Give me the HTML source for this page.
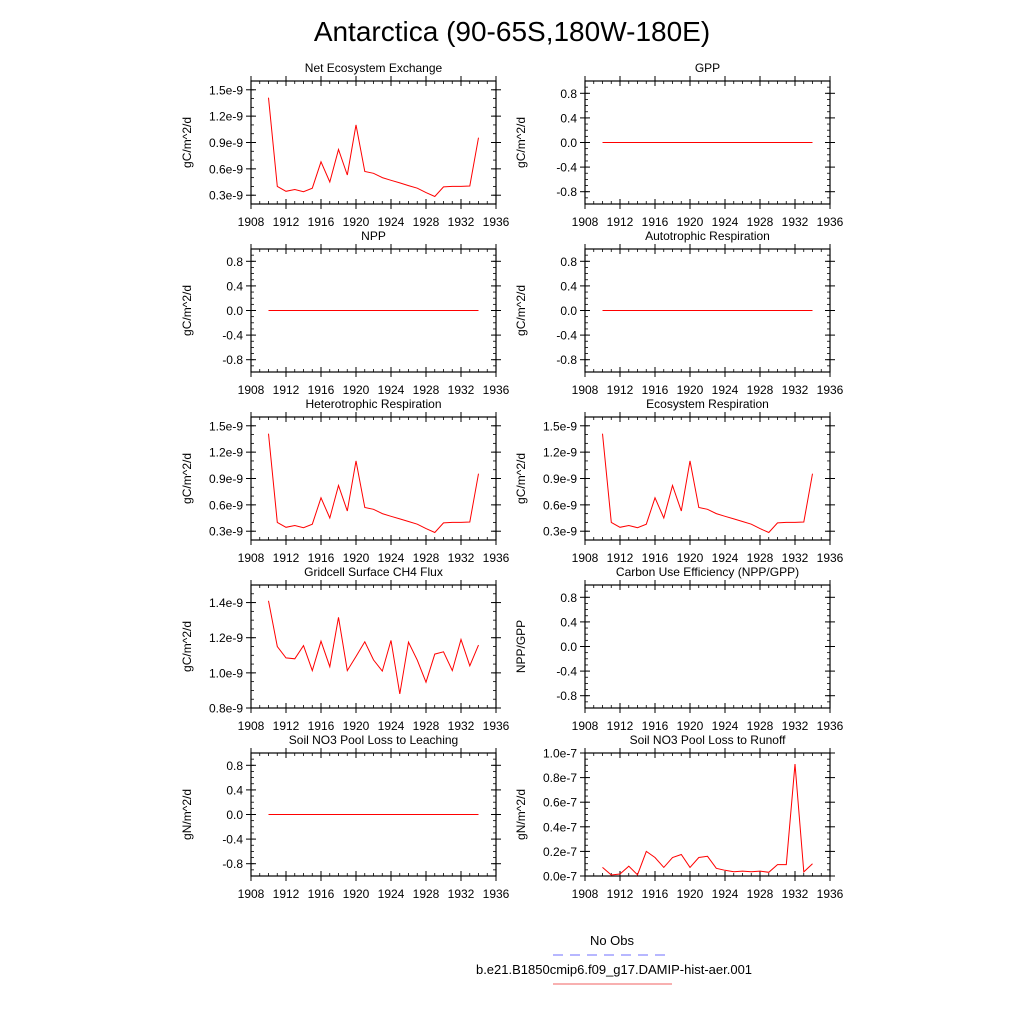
<!DOCTYPE html>
<html><head><meta charset="utf-8"><style>
body{margin:0;background:#fff;}
svg text{font-family:"Liberation Sans",sans-serif;fill:#000;}
</style></head><body>
<svg id="chart" width="1024" height="1024" xmlns="http://www.w3.org/2000/svg">
<text x="512" y="41" font-size="28" text-anchor="middle">Antarctica (90-65S,180W-180E)</text>
<text x="612" y="945" font-size="13" text-anchor="middle">No Obs</text>
<line x1="553" y1="955" x2="672" y2="955" stroke="#6f6fff" stroke-width="1" stroke-dasharray="10,7"/>
<text x="614" y="974" font-size="13" text-anchor="middle">b.e21.B1850cmip6.f09_g17.DAMIP-hist-aer.001</text>
<line x1="553" y1="984" x2="672" y2="984" stroke="#f06060" stroke-width="1"/>
</svg>
<script>
const years=[1910,1911,1912,1913,1914,1915,1916,1917,1918,1919,1920,1921,1922,1923,1924,1925,1926,1927,1928,1929,1930,1931,1932,1933,1934];
const xTicks=[1908,1912,1916,1920,1924,1928,1932,1936];
const neeVals=[1.41,0.40,0.345,0.365,0.34,0.38,0.68,0.45,0.82,0.53,1.10,0.57,0.55,0.50,0.47,0.44,0.41,0.38,0.33,0.285,0.395,0.40,0.40,0.405,0.955];
const ch4Vals=[1.41,1.15,1.085,1.08,1.155,1.013,1.18,1.035,1.316,1.013,1.093,1.177,1.074,1.01,1.185,0.88,1.175,1.072,0.947,1.107,1.12,1.013,1.19,1.04,1.158];
const runoffVals=[0.07,0.008,0.016,0.08,0.01,0.20,0.15,0.07,0.15,0.175,0.07,0.15,0.16,0.063,0.046,0.035,0.04,0.035,0.04,0.03,0.093,0.093,0.91,0.033,0.10];
const zeroVals=[0,0,0,0,0,0,0,0,0,0,0,0,0,0,0,0,0,0,0,0,0,0,0,0,0];
const nee3Ticks=["0.3e-9","0.6e-9","0.9e-9","1.2e-9","1.5e-9"];
const zeroTicks=["-0.8","-0.4","0.0","0.4","0.8"];
const ch4Ticks=["0.8e-9","1.0e-9","1.2e-9","1.4e-9"];
const runoffTicks=["0.0e-7","0.2e-7","0.4e-7","0.6e-7","0.8e-7","1.0e-7"];
const panels=[
 {name:"nee",title:"Net Ecosystem Exchange",ylab:"gC/m^2/d",col:0,row:0,ymin:0.2,ymax:1.6,tv:[0.3,0.6,0.9,1.2,1.5],tl:nee3Ticks,minor:0.1,data:neeVals},
 {name:"gpp",title:"GPP",ylab:"gC/m^2/d",col:1,row:0,ymin:-1,ymax:1,tv:[-0.8,-0.4,0,0.4,0.8],tl:zeroTicks,minor:0.1,data:zeroVals},
 {name:"npp",title:"NPP",ylab:"gC/m^2/d",col:0,row:1,ymin:-1,ymax:1,tv:[-0.8,-0.4,0,0.4,0.8],tl:zeroTicks,minor:0.1,data:zeroVals},
 {name:"autotrophic-resp",title:"Autotrophic Respiration",ylab:"gC/m^2/d",col:1,row:1,ymin:-1,ymax:1,tv:[-0.8,-0.4,0,0.4,0.8],tl:zeroTicks,minor:0.1,data:zeroVals},
 {name:"heterotrophic-resp",title:"Heterotrophic Respiration",ylab:"gC/m^2/d",col:0,row:2,ymin:0.2,ymax:1.6,tv:[0.3,0.6,0.9,1.2,1.5],tl:nee3Ticks,minor:0.1,data:neeVals},
 {name:"ecosystem-resp",title:"Ecosystem Respiration",ylab:"gC/m^2/d",col:1,row:2,ymin:0.2,ymax:1.6,tv:[0.3,0.6,0.9,1.2,1.5],tl:nee3Ticks,minor:0.1,data:neeVals},
 {name:"ch4-flux",title:"Gridcell Surface CH4 Flux",ylab:"gC/m^2/d",col:0,row:3,ymin:0.8,ymax:1.5,tv:[0.8,1.0,1.2,1.4],tl:ch4Ticks,minor:0.05,data:ch4Vals},
 {name:"cue",title:"Carbon Use Efficiency (NPP/GPP)",ylab:"NPP/GPP",col:1,row:3,ymin:-1,ymax:1,tv:[-0.8,-0.4,0,0.4,0.8],tl:zeroTicks,minor:0.1,data:null},
 {name:"no3-leaching",title:"Soil NO3 Pool Loss to Leaching",ylab:"gN/m^2/d",col:0,row:4,ymin:-1,ymax:1,tv:[-0.8,-0.4,0,0.4,0.8],tl:zeroTicks,minor:0.1,data:zeroVals},
 {name:"no3-runoff",title:"Soil NO3 Pool Loss to Runoff",ylab:"gN/m^2/d",col:1,row:4,ymin:0,ymax:1.0,tv:[0,0.2,0.4,0.6,0.8,1.0],tl:runoffTicks,minor:0.05,data:runoffVals}
];
const NS="http://www.w3.org/2000/svg";
const svg=document.getElementById("chart");
function mk(tag,attrs,parent){const e=document.createElementNS(NS,tag);for(const k in attrs)e.setAttribute(k,attrs[k]);(parent||svg).appendChild(e);return e;}
panels.forEach(p=>{
 const L=p.col?585:251,R=p.col?830:496,T=81+168*p.row,B=204+168*p.row;
 const xs=v=>L+(v-1908)/(1936-1908)*(R-L);
 const ys=v=>B-(v-p.ymin)/(p.ymax-p.ymin)*(B-T);
 const g=mk("g",{});
 
 
 const t=mk("text",{x:(L+R)/2,y:T-9,"font-size":12,"text-anchor":"middle"},g);t.textContent=p.title;
 
 
 const yl=mk("text",{x:0,y:0,"font-size":12,"text-anchor":"middle",transform:`translate(${L-60},${(T+B)/2}) rotate(-90)`},g);yl.textContent=p.ylab;
 
 
 // minor y ticks
 for(let v=Math.ceil(p.ymin/p.minor-1e-6)*p.minor;v<=p.ymax+1e-9;v+=p.minor){const y=ys(v);
  mk("line",{x1:L,x2:L+3,y1:y,y2:y,stroke:"#000","stroke-width":0.8},g);mk("line",{x1:R,x2:R-3,y1:y,y2:y,stroke:"#000","stroke-width":0.8},g);}
 p.tv.forEach((v,i)=>{const y=ys(v);
  mk("line",{x1:L-5,x2:L+5,y1:y,y2:y,stroke:"#000","stroke-width":1},g);mk("line",{x1:R-5,x2:R+5,y1:y,y2:y,stroke:"#000","stroke-width":1},g);
  const tl=mk("text",{x:L-8,y:y+4.5,"font-size":12,"text-anchor":"end"},g);tl.textContent=p.tl[i];
  
  });
 for(let yr=1909;yr<1936;yr++){const x=xs(yr);
  mk("line",{x1:x,x2:x,y1:B,y2:B-3,stroke:"#000","stroke-width":0.8},g);mk("line",{x1:x,x2:x,y1:T,y2:T+3,stroke:"#000","stroke-width":0.8},g);}
 xTicks.forEach(v=>{const x=xs(v);
  mk("line",{x1:x,x2:x,y1:B-5,y2:B+5,stroke:"#000","stroke-width":1},g);mk("line",{x1:x,x2:x,y1:T-5,y2:T+5,stroke:"#000","stroke-width":1},g);
  const xl=mk("text",{x:x,y:B+22,"font-size":12,"text-anchor":"middle"},g);xl.textContent=v;
  
  });
 const box=mk("rect",{x:L,y:T,width:R-L,height:B-T,fill:"none",stroke:"#000","stroke-width":1.2},g);
 
 
 if(p.data){
  const pts=p.data.map((v,i)=>xs(years[i]).toFixed(1)+","+ys(v).toFixed(1)).join(" ");
  const line=mk("polyline",{points:pts,fill:"none",stroke:"#ff0000","stroke-width":1},g);
  
  
 }
});
</script>
</body></html>
